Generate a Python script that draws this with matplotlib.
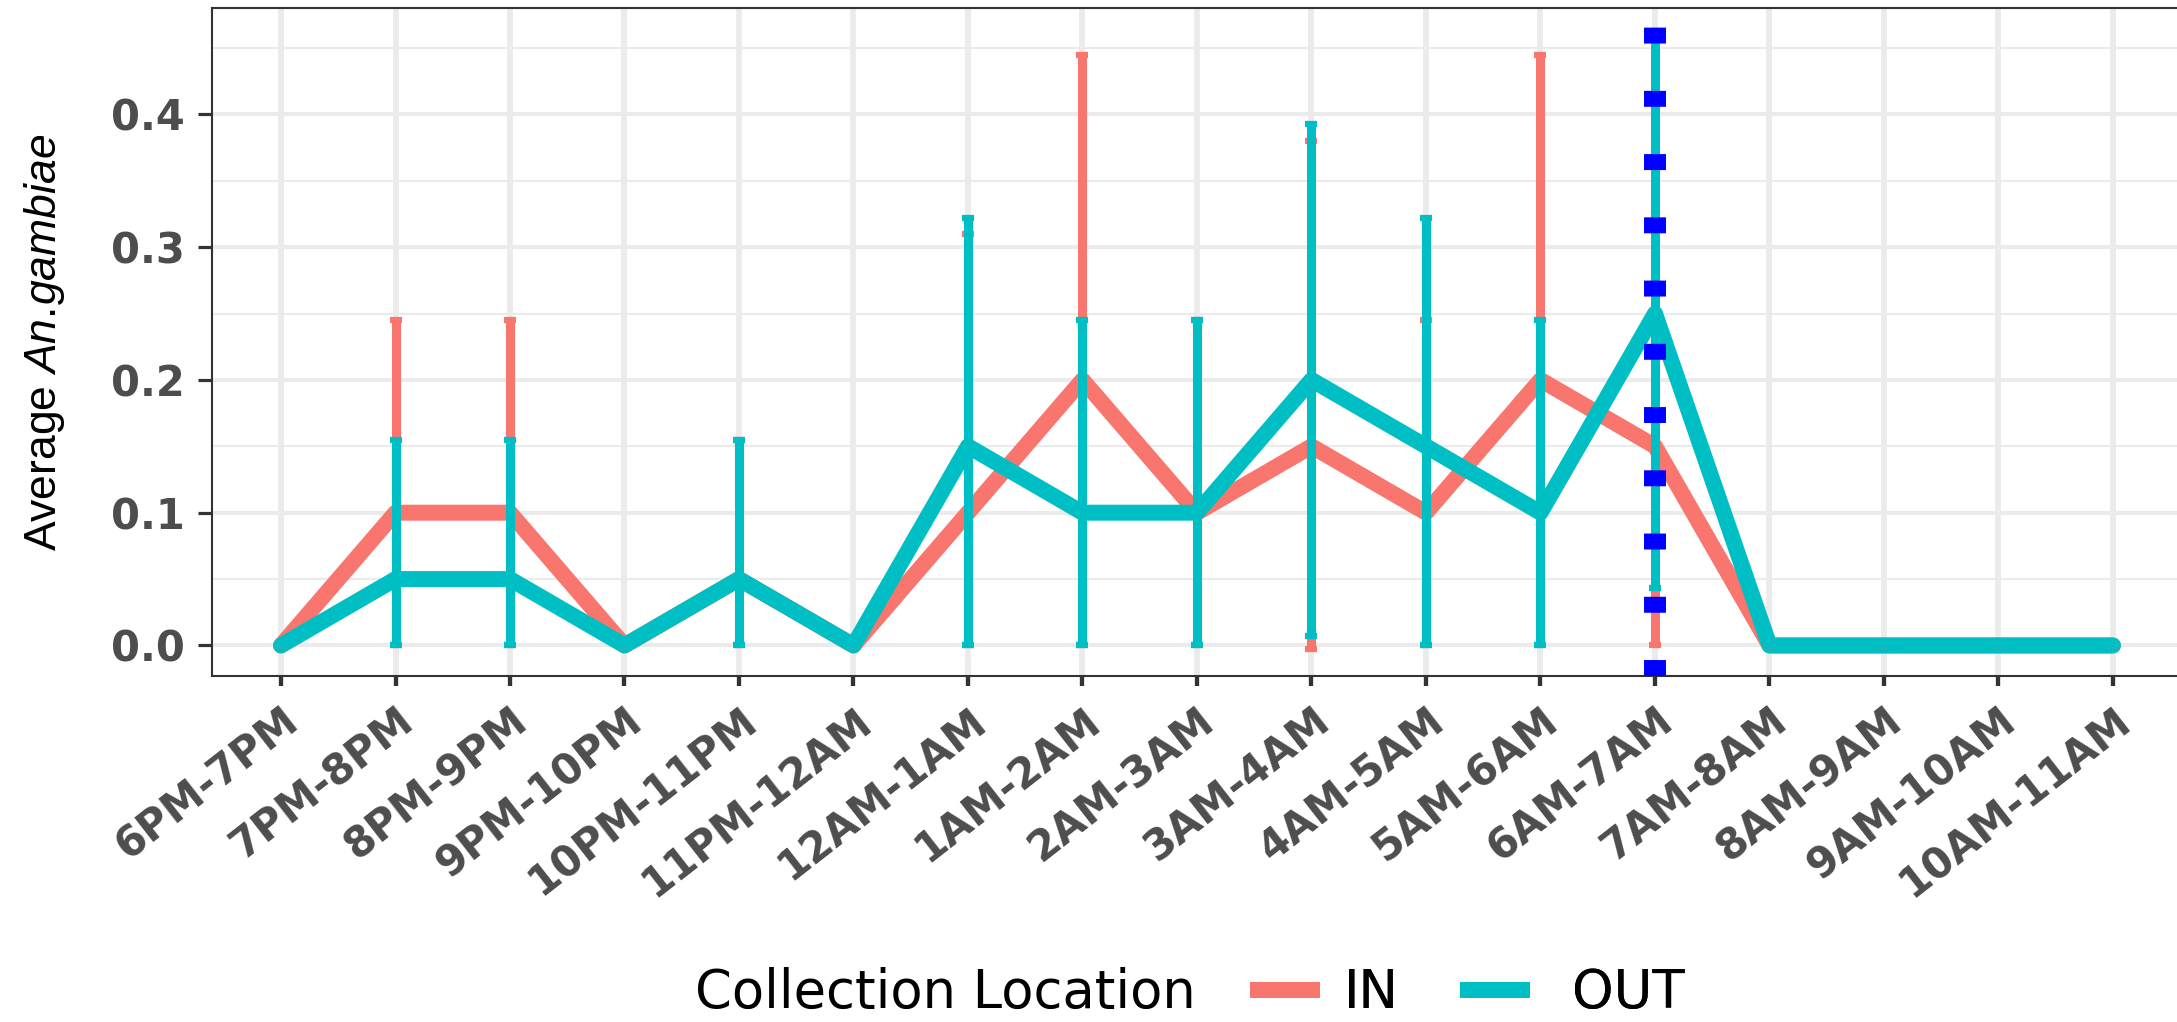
import matplotlib
matplotlib.use("Agg")
import matplotlib.pyplot as plt
from matplotlib.lines import Line2D

# ---------------- data ----------------
categories = ["6PM-7PM", "7PM-8PM", "8PM-9PM", "9PM-10PM", "10PM-11PM", "11PM-12AM",
              "12AM-1AM", "1AM-2AM", "2AM-3AM", "3AM-4AM", "4AM-5AM", "5AM-6AM",
              "6AM-7AM", "7AM-8AM", "8AM-9AM", "9AM-10AM", "10AM-11AM"]

in_mean = [0, 0.10, 0.10, 0, 0.05, 0, 0.10, 0.20, 0.10, 0.15, 0.10, 0.20, 0.15, 0, 0, 0, 0]
in_low  = [0, 0, 0, 0, 0, 0, 0, 0, 0, -0.003, 0, 0, 0, 0, 0, 0, 0]
in_high = [0, 0.245, 0.245, 0, 0.155, 0, 0.31, 0.445, 0.245, 0.38, 0.245, 0.445, 0.317, 0, 0, 0, 0]

out_mean = [0, 0.05, 0.05, 0, 0.05, 0, 0.15, 0.10, 0.10, 0.20, 0.15, 0.10, 0.25, 0, 0, 0, 0]
out_low  = [0, 0, 0, 0, 0, 0, 0, 0, 0, 0.007, 0, 0, 0.043, 0, 0, 0, 0]
out_high = [0, 0.155, 0.155, 0, 0.155, 0, 0.322, 0.245, 0.245, 0.393, 0.322, 0.245, 0.457, 0, 0, 0, 0]

series_names = ["IN", "OUT"]
legend_title = "Collection Location"
vline_category = "6AM-7AM"
y_ticks = [0.0, 0.1, 0.2, 0.3, 0.4]
y_tick_labels = ["0.0", "0.1", "0.2", "0.3", "0.4"]
y_minor = [0.05, 0.15, 0.25, 0.35, 0.45]

# ---------------- style ----------------
RED = "#F8766D"
TEAL = "#00BFC4"
BLUE = "#0000FF"
GRID = "#EBEBEB"
DARK = "#333333"
TICKTXT = "#4D4D4D"

plt.rcParams["mathtext.fontset"] = "custom"
plt.rcParams["mathtext.rm"] = "Liberation Sans"
plt.rcParams["mathtext.it"] = "Liberation Sans:italic"

W, H = 2177, 1022
fig = plt.figure(figsize=(W / 100, H / 100), dpi=100)
fig.patch.set_facecolor("white")

left_px, right_px, top_px, bot_px = 212.3, 2181.7, 8, 676
ax = fig.add_axes([left_px / W, 1 - bot_px / H, (right_px - left_px) / W, (bot_px - top_px) / H])

x = list(range(len(categories)))

# lines
ax.plot(x, in_mean, color=RED, lw=11.5, solid_capstyle="round", solid_joinstyle="round", zorder=3)
ax.plot(x, out_mean, color=TEAL, lw=11.5, solid_capstyle="round", solid_joinstyle="round", zorder=4)

# error bars
in_err = [[m - l for m, l in zip(in_mean, in_low)], [h - m for m, h in zip(in_mean, in_high)]]
out_err = [[m - l for m, l in zip(out_mean, out_low)], [h - m for m, h in zip(out_mean, out_high)]]
eb1 = ax.errorbar(x, in_mean, yerr=in_err, fmt="none", ecolor=RED, elinewidth=6.5,
                  capsize=4, capthick=4.5, zorder=5)
eb2 = ax.errorbar(x, out_mean, yerr=out_err, fmt="none", ecolor=TEAL, elinewidth=6.5,
                  capsize=4, capthick=4.5, zorder=6)
for eb, z in ((eb1, 5), (eb2, 6)):
    for art in eb.lines[2]:
        art.set_capstyle("butt")
        art.set_zorder(z)
    for cap in eb.lines[1]:
        cap.set_zorder(z)

# dotted blue vertical line
ax.axvline(categories.index(vline_category), color=BLUE, lw=15.8, dashes=(0.727, 2.155),
           dash_capstyle="butt", zorder=7)

# axes
ax.set_xlim(-0.6, len(categories) - 1 + 0.6)
ax.set_ylim(-0.0230, 0.4801)
ax.set_xticks(x)
ax.set_xticklabels(categories, rotation=38, ha="right", va="top", rotation_mode="anchor",
                   fontweight="bold", fontsize=30, color=TICKTXT, family="DejaVu Sans")
ax.set_yticks(y_ticks)
ax.set_yticklabels(y_tick_labels, fontweight="bold", fontsize=30, color=TICKTXT, family="DejaVu Sans")
ax.set_yticks(y_minor, minor=True)

ax.set_axisbelow(True)
ax.grid(which="major", axis="y", color=GRID, lw=2.9)
ax.grid(which="minor", axis="y", color=GRID, lw=1.45)
ax.grid(which="major", axis="x", color=GRID, lw=4.2)

ax.tick_params(axis="x", which="major", length=7.2, width=3.1, color=DARK, pad=10)
ax.tick_params(axis="y", which="major", length=10, width=2.3, color=DARK, pad=10)
ax.tick_params(axis="y", which="minor", length=0)

for s in ax.spines.values():
    s.set_color(DARK)
    s.set_linewidth(1.5)

ax.set_ylabel("Average $\\mathit{An.\\!gambiae}$", fontsize=32, family="Liberation Sans", color="black")
ax.yaxis.set_label_coords((67 - left_px) / (right_px - left_px), 0.5)

# legend (title on the left, keys in one row)
leg_fs = 38
leg_y = 1 - 993 / H
colors = [RED, TEAL]
key_left_px = [1250, 1460]
text_pad = [0.45, 0.80]
for name, col, kx, tp in zip(series_names, colors, key_left_px, text_pad):
    h = Line2D([], [], color=col, lw=11.5, solid_capstyle="butt")
    lg = fig.legend([h], [name], loc="center left", bbox_to_anchor=(kx / W, leg_y),
                    frameon=False, fontsize=leg_fs, handlelength=1.33, handletextpad=tp,
                    borderpad=0, borderaxespad=0)
    fig.add_artist(lg)
fig.text(695 / W, leg_y, legend_title, fontsize=leg_fs, ha="left", va="center",
         color="black", family="DejaVu Sans")

fig.savefig("out.png", dpi=100, facecolor="white")
